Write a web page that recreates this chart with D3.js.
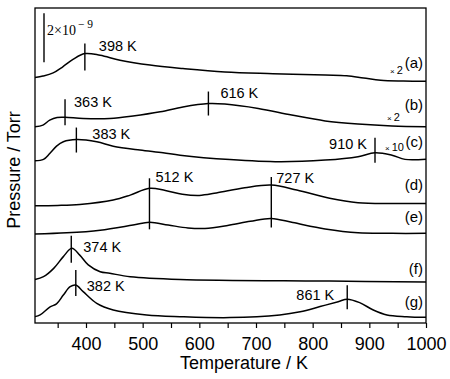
<!DOCTYPE html>
<html>
<head>
<meta charset="utf-8">
<script src="https://cdn.jsdelivr.net/npm/d3@7/dist/d3.min.js"></script>
<style>
  body { margin: 0; background: #fff; }
  svg text { font-family: "Liberation Sans", Arial, sans-serif; fill: #000; }
</style>
</head>
<body>
<svg id="chart" width="450" height="379"></svg>
<script>
// TPD traces, [T (K), pressure in 1e-10 Torr], stacked offsets included
const traceA = [[310,100.2],[324,100.8],[342,102.1],[359,104.6],[377,107.6],[398,110.0],[425,109.3],[460,107.3],[513,105.3],[571,103.9],[645,102.5],[730,101.8],[822,101.2],[860,100.9],[890,100.0],[920,99.1],[960,98.8],[1000,98.7]];
const traceB = [[310,80.1],[324,80.8],[336,82.8],[349,83.9],[363,84.0],[395,83.5],[442,83.5],[483,84.5],[531,86.2],[571,88.2],[616,89.6],[645,89.4],[704,87.6],[763,84.9],[822,82.5],[880,81.2],[940,80.4],[1000,80.1]];
const traceC = [[310,66.2],[325,66.8],[336,69.2],[348,72.2],[360,74.0],[383,74.9],[419,74.0],[448,72.2],[495,70.6],[536,69.5],[566,68.5],[654,66.7],[742,65.8],[822,66.5],[880,67.9],[910,69.5],[940,68.5],[963,66.8],[1000,66.9]];
const traceD = [[310,47.9],[350,48.0],[389,48.4],[448,50.2],[478,52.2],[512,55.0],[540,54.1],[570,52.6],[600,52.1],[630,53.1],[680,55.2],[727,56.3],[772,54.3],[830,50.9],[880,49.1],[940,48.8],[1000,48.8]];
const traceE = [[310,36.3],[366,36.8],[425,37.9],[483,40.0],[512,41.1],[545,40.0],[580,38.8],[610,38.6],[650,39.8],[690,41.5],[727,42.7],[765,41.0],[822,38.4],[880,36.8],[940,36.6],[1000,36.6]];
const traceF = [[310,17.8],[325,18.9],[343,22.3],[360,27.1],[375,30.5],[389,27.7],[404,23.7],[425,20.9],[442,20.3],[478,18.9],[566,17.8],[830,17.1],[1000,16.7]];
const traceG = [[310,2.6],[319,3.3],[336,6.5],[348,7.8],[360,11.4],[372,14.8],[382,15.5],[395,12.8],[419,8.0],[448,5.3],[507,3.3],[566,2.6],[654,2.2],[742,3.3],[778,4.6],[813,6.7],[845,8.7],[861,9.7],[883,8.3],[907,5.3],[931,3.3],[966,2.6],[1000,2.3]];

const traces = [traceA, traceB, traceC, traceD, traceE, traceF, traceG];
const traceNames = ['(a)', '(b)', '(c)', '(d)', '(e)', '(f)', '(g)'];
const multipliers = ['2', '2', '10'];           // traces a, b, c

// peak temperatures and the trace each one marks
const peakTemps = [398, 363, 616, 383, 910, 512, 727, 374, 382, 861];
const peakTrace = [0, 1, 1, 2, 2, 3, 3, 5, 6, 6];
const peakLowTrace = [0, 1, 1, 2, 2, 4, 4, 5, 6, 6];

const xTicks = d3.range(350, 1001, 50);
const scaleBarValue = 20;    // 2e-9 Torr
const yMax = 128.6;

// layout
const W = 450, H = 379;
const margin = { top: 8, right: 24, bottom: 56, left: 35 };
const svg = d3.select('#chart');

const x = d3.scaleLinear().domain([310, 1000]).range([margin.left, W - margin.right]);
const y = d3.scaleLinear().domain([0, yMax]).range([H - margin.bottom, margin.top]);

const valueAt = (trace, T) => {
  const i = d3.bisector((d) => d[0]).left(trace, T);
  if (i <= 0) return trace[0][1];
  if (i >= trace.length) return trace[trace.length - 1][1];
  const a = trace[i - 1], b = trace[i];
  return a[1] + ((b[1] - a[1]) * (T - a[0])) / (b[0] - a[0]);
};

// x axis
const xAxis = d3.axisBottom(x)
  .tickValues(xTicks)
  .tickSizeInner(5)
  .tickSizeOuter(0)
  .tickPadding(9)
  .tickFormat((d) => (d % 100 === 0 ? d : ''));

const gx = svg.append('g')
  .attr('transform', `translate(0,${H - margin.bottom})`)
  .call(xAxis);
gx.select('.domain').remove();
gx.selectAll('line').attr('stroke', '#000').attr('stroke-width', 1.2);
gx.selectAll('text')
  .style('font-family', '"Liberation Sans", Arial, sans-serif')
  .style('font-size', '18px')
  .attr('fill', '#000');

// traces
const line = d3.line()
  .x((d) => x(d[0]))
  .y((d) => y(d[1]))
  .curve(d3.curveCatmullRom.alpha(0.5));

svg.append('g')
  .selectAll('path')
  .data(traces)
  .join('path')
  .attr('d', line)
  .attr('fill', 'none')
  .attr('stroke', '#000')
  .attr('stroke-width', 1.5);

// frame
svg.append('rect')
  .attr('x', margin.left)
  .attr('y', margin.top)
  .attr('width', W - margin.left - margin.right)
  .attr('height', H - margin.top - margin.bottom)
  .attr('fill', 'none')
  .attr('stroke', '#000')
  .attr('stroke-width', 1.3);

// peak markers and labels (offsets in px)
const peakLayout = [
  { t: -10, b: 17, dx: 14, dy: -3, anchor: 'start' },
  { t: -18, b: 8, dx: 9, dy: -10, anchor: 'start' },
  { t: -12, b: 12, dx: 12, dy: -6, anchor: 'start' },
  { t: -12, b: 13, dx: 16, dy: -1, anchor: 'start' },
  { t: -15, b: 10, dx: -8, dy: -4, anchor: 'end' },
  { t: -10, b: 7, dx: 6, dy: -6, anchor: 'start' },
  { t: -8, b: 9, dx: 5, dy: -2, anchor: 'start' },
  { t: -13, b: 14, dx: 12, dy: 3, anchor: 'start' },
  { t: -15, b: 11, dx: 11, dy: 6, anchor: 'start' },
  { t: -14, b: 10, dx: -13, dy: 1, anchor: 'end' },
];

const peaks = svg.append('g');
peakTemps.forEach((T, i) => {
  const L = peakLayout[i];
  const px = x(T);
  const yTop = y(valueAt(traces[peakTrace[i]], T));
  const yLow = y(valueAt(traces[peakLowTrace[i]], T));
  peaks.append('line')
    .attr('x1', px).attr('x2', px)
    .attr('y1', yTop + L.t).attr('y2', yLow + L.b)
    .attr('stroke', '#000')
    .attr('stroke-width', 1.4);
  peaks.append('text')
    .attr('x', px + L.dx)
    .attr('y', yTop + L.dy)
    .attr('text-anchor', L.anchor)
    .style('font-size', '14.5px')
    .text(`${T} K`);
});

// trace names at right edge
const nameDy = [-13, -17, -12, -13, -11, -8, -10];
svg.append('g')
  .selectAll('text')
  .data(traces)
  .join('text')
  .attr('x', x(1000) - 3)
  .attr('y', (d, i) => y(d[d.length - 1][1]) + nameDy[i])
  .attr('text-anchor', 'end')
  .style('font-size', '15px')
  .text((d, i) => traceNames[i]);

// magnification marks
const multX = [390, 387, 385];
const multDy = [-7, -6, -8];
multipliers.forEach((m, i) => {
  const tr = traces[i];
  const t = svg.append('text')
    .attr('x', multX[i])
    .attr('y', y(tr[tr.length - 1][1]) + multDy[i]);
  t.append('tspan').style('font-size', '8px').text('\u00d7');
  t.append('tspan').attr('dx', 2).style('font-size', '11px').text(m);
});

// scale bar 2x10^-9
const barTop = 126.5;
svg.append('line')
  .attr('x1', 44).attr('x2', 44)
  .attr('y1', y(barTop)).attr('y2', y(barTop - scaleBarValue))
  .attr('stroke', '#000')
  .attr('stroke-width', 1.4);
const sb = svg.append('text')
  .attr('x', 47)
  .attr('y', 35)
  .style('font-family', '"Liberation Serif", "Times New Roman", serif')
  .style('font-size', '14px');
sb.append('tspan').text('2\u00d710');
sb.append('tspan').attr('dx', 2).attr('dy', -7).style('font-size', '11.5px').text('\u2212 9');

// axis titles
svg.append('text')
  .attr('x', 244)
  .attr('y', 369)
  .attr('text-anchor', 'middle')
  .style('font-size', '18px')
  .text('Temperature / K');

svg.append('text')
  .attr('transform', 'translate(20,170) rotate(-90)')
  .attr('text-anchor', 'middle')
  .style('font-size', '18px')
  .text('Pressure / Torr');
</script>
</body>
</html>
